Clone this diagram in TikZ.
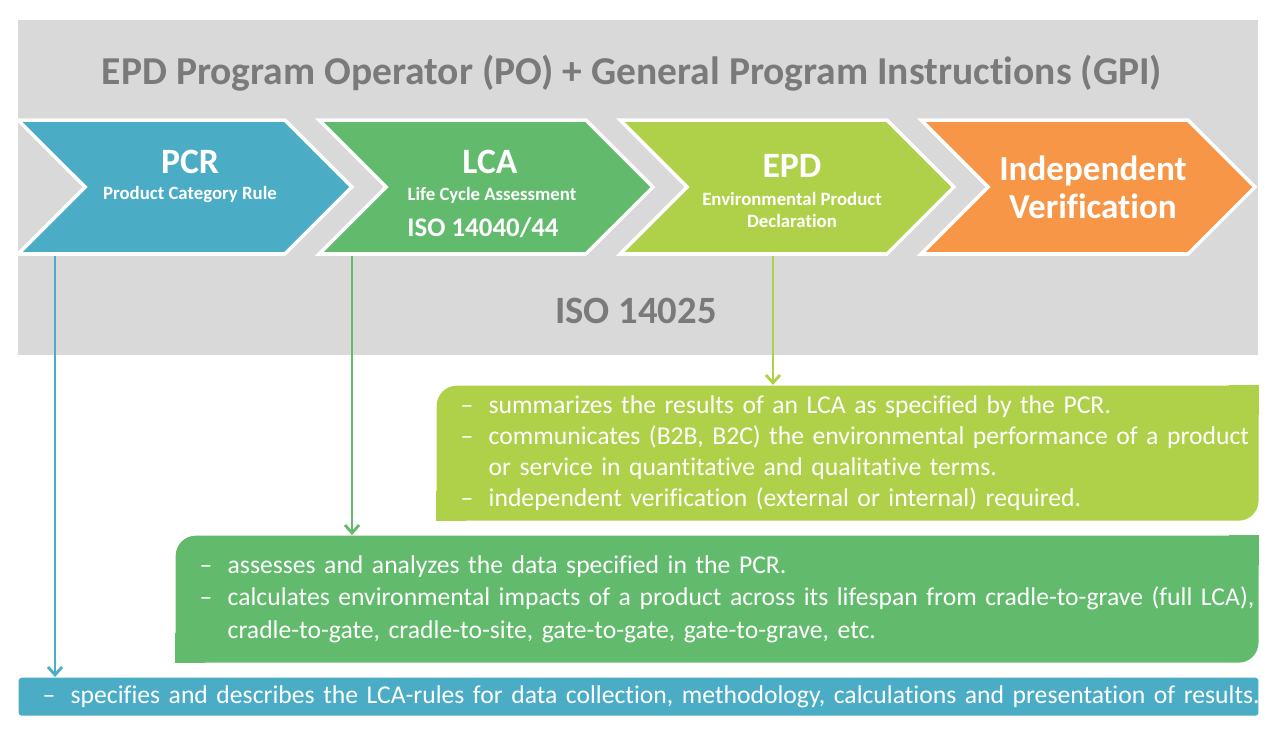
\documentclass[tikz,border=0pt]{standalone}
\usepackage{fontspec}
\setmainfont{Carlito}[Ligatures={TeX,NoCommon}]
\usetikzlibrary{positioning, shapes.symbols, shadows, backgrounds, arrows.meta}
\definecolor{pcrblue}{HTML}{4BACC6}
\definecolor{lcagreen}{HTML}{62BB6D}
\definecolor{epdgreen}{HTML}{AFD14A}
\definecolor{ivorange}{HTML}{F79646}
\definecolor{bggray}{HTML}{D9D9D9}
\definecolor{titlegray}{HTML}{7A7A7A}
\newcommand{\itemline}[1]{\mbox{\hspace*{0.48cm}\makebox[0.56cm][l]{--}#1}}
\newcommand{\contline}[1]{\mbox{\hspace*{1.04cm}#1}}

\begin{document}
\begin{tikzpicture}[x=0.02cm, y=-0.02cm, thick,
  chevron/.style={signal, signal from=west, signal to=east, draw=white, line width=2pt,
    minimum width=6.68cm, minimum height=2.68cm, inner sep=0pt,
    drop shadow={shadow xshift=0.6pt, shadow yshift=-0.8pt, opacity=0.3}},
  head/.style={text=white, font=\fontsize{20.3}{22}\selectfont\bfseries},
  sub/.style={text=white, font=\fontsize{10.7}{12.5}\selectfont\bfseries, align=center},
  note/.style={anchor=north west, text=white, align=left, inner xsep=0pt, inner ysep=0pt,
    font=\fontsize{14.6}{17.8}\selectfont},
  link/.style={-{Straight Barb[length=4.5pt, width=8pt]}, line width=1.6pt}]
  \useasboundingbox (0,0) rectangle (1280,738);
  \fill[bggray] (18,20) rectangle (1258,355);

  \node[font=\fontsize{22.5}{24}\selectfont\bfseries, text=titlegray] (title) at (632,73)
    {EPD Program Operator (PO) + General Program Instructions (GPI)};

  \node[chevron, fill=pcrblue] (pcr) at (185,187) {};
  \node[chevron, fill=lcagreen] (lca) at (486,187) {};
  \node[chevron, fill=epdgreen] (epd) at (787,187) {};
  \node[chevron, fill=ivorange] (iv) at (1088,187) {};

  \node[head] (pcrname) at (190,162) {PCR};
  \node[sub] (pcrsub) at (190,194) {Product Category Rule};
  \node[head] (lcaname) at (490,162) {LCA};
  \node[sub] (lcasub) at (492,195) {Life Cycle Assessment};
  \node[text=white, font=\fontsize{15.3}{17}\selectfont\bfseries] (lcaiso) at (483,228) {ISO 14040/44};
  \node[head] (epdname) at (792,166) {EPD};
  \node[sub] (epdsub) at (792,210) {Environmental Product\\Declaration};
  \node[text=white, font=\fontsize{20}{21.5}\selectfont\bfseries, align=center] (ivname) at (1093,187)
    {Independent\\Verification};

  \node[font=\fontsize{22}{24}\selectfont\bfseries, text=titlegray] (iso) at (636,311) {ISO 14025};

  % boxes below
  \node[note, fill=epdgreen, rounded corners=0.4cm, text width=16.44cm, minimum height=2.7cm] (epdbox) at (436,385)
    {\itemline{summarizes the results of an LCA as specified by the PCR.}\\
     \itemline{communicates (B2B, B2C) the environmental performance of a product}\\
     \contline{or service in quantitative and qualitative terms.}\\
     \itemline{independent verification (external or internal) required.}};
  \node[note, fill=lcagreen, rounded corners=0.4cm, text width=21.66cm, minimum height=2.54cm,
    font=\fontsize{14.6}{18.4}\selectfont] (lcabox) at (175,535)
    {\itemline{assesses and analyzes the data specified in the PCR.}\\
     \itemline{calculates environmental impacts of a product across its lifespan from cradle-to-grave (full LCA),}\\
     \contline{cradle-to-gate, cradle-to-site, gate-to-gate, gate-to-grave, etc.}\\[-0.1cm]};
  \node[note, fill=pcrblue, rounded corners=0.06cm, text width=24.8cm, minimum height=0.76cm] (pcrbox) at (18,677)
    {\itemline{specifies and describes the LCA-rules for data collection, methodology, calculations and presentation of results.}};

  \begin{scope}[on background layer]
    \fill[epdgreen] (epdbox.north east) rectangle ++(-30,30);
    \fill[epdgreen] (epdbox.south west) rectangle ++(30,-30);
    \fill[lcagreen] (lcabox.north east) rectangle ++(-30,30);
    \fill[lcagreen] (lcabox.south west) rectangle ++(30,-30);
  \end{scope}

  \draw[link, pcrblue] ([xshift=-2.6cm]pcr.south) -- ([xshift=-2.6cm]pcr.south |- pcrbox.north);
  \draw[link, lcagreen] ([xshift=-2.68cm]lca.south) -- ([xshift=-2.68cm]lca.south |- lcabox.north);
  \draw[link, epdgreen] ([xshift=-0.28cm]epd.south) -- ([xshift=-0.28cm]epd.south |- epdbox.north);
\end{tikzpicture}
\end{document}
